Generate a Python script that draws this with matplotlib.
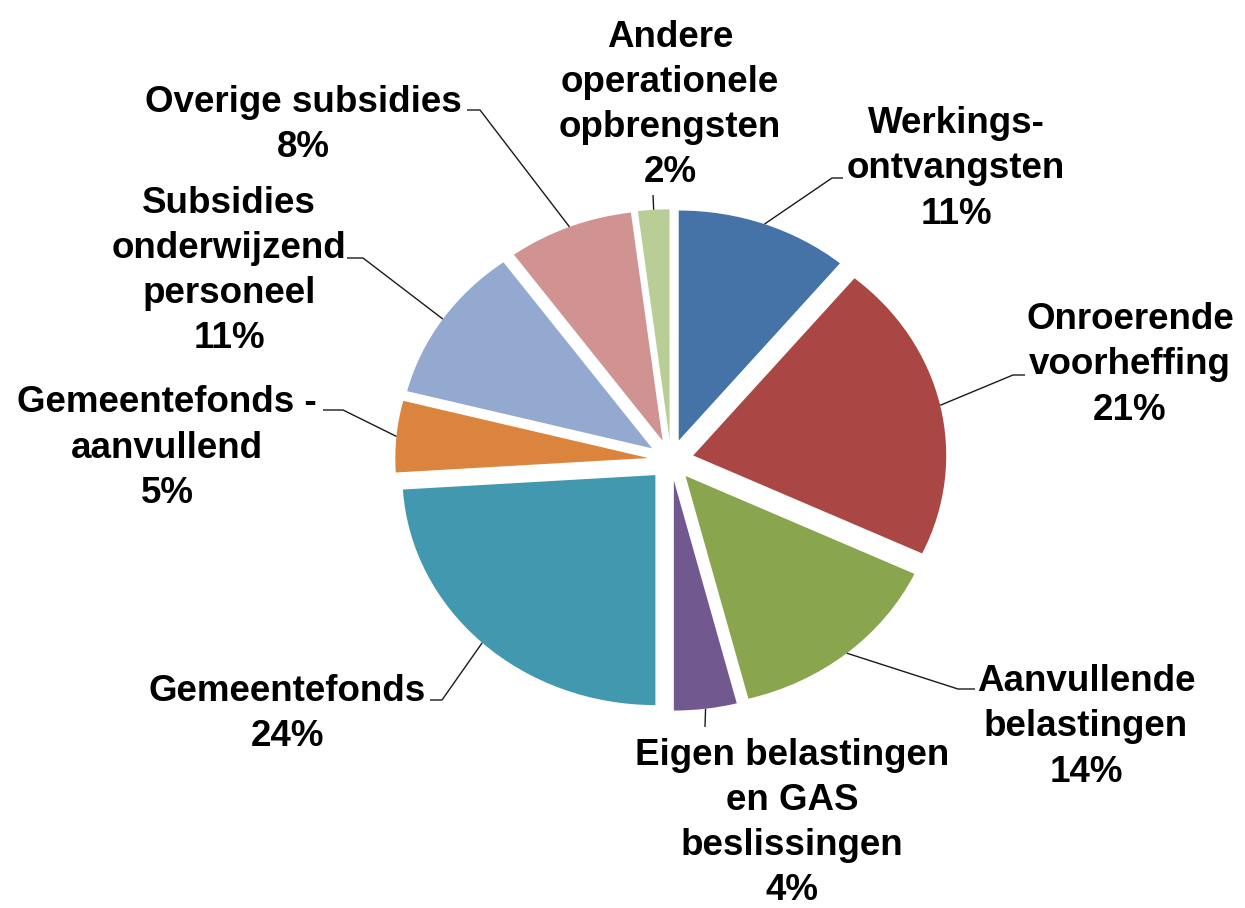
import numpy as np
import matplotlib
matplotlib.use("Agg")
import matplotlib.pyplot as plt

# ---------------- data ----------------
labels = [
    "Werkings-\nontvangsten",
    "Onroerende\nvoorheffing",
    "Aanvullende\nbelastingen",
    "Eigen belastingen\nen GAS\nbeslissingen",
    "Gemeentefonds",
    "Gemeentefonds -\naanvullend",
    "Subsidies\nonderwijzend\npersoneel",
    "Overige subsidies",
    "Andere\noperationele\nopbrengsten",
]
shares = [11, 21, 14, 4, 24, 5, 11, 8, 2]
colors = ["#4572A7", "#AA4643", "#89A54E", "#71588F", "#4198AF",
          "#DB843D", "#93A9CF", "#D19392", "#B9CD96"]

# ---------------- layout (pixels) ----------------
W, H = 1245, 908
cx, cy = 671, 460          # pie centre
rx, ry = 253, 230          # pie is slightly stretched horizontally
explode = 0.09

# text block centre (x, y) and leader elbow points, in pixel coords
label_pos = [
    (956, 169), (1130, 365), (1086, 727), (792, 823), (287, 714),
    (167, 448), (229, 271), (303, 125), (670, 105),
]
leader_pts = [
    [(832, 178), (843, 178)],
    [(1013, 375), (1025, 375)],
    [(958, 689), (975, 689)],
    [(705, 727)],
    [(442, 700), (430, 700)],
    [(343, 410), (323, 410)],
    [(363, 258), (347, 258)],
    [(480, 110), (467, 110)],
    [(653, 195)],
]

plt.rcParams["font.family"] = ["Liberation Sans", "DejaVu Sans"]

fig = plt.figure(figsize=(W / 100, H / 100), dpi=100)

# pie axes: unit circle, non-equal aspect gives the stretched look
ax_pie = fig.add_axes([0, 0, 1, 1])
ax_pie.pie(shares, colors=colors, startangle=90, counterclock=False,
           explode=[explode] * len(shares),
           wedgeprops=dict(linewidth=0))
ax_pie.set_aspect("auto")
ax_pie.set_xlim(-cx / rx, (W - cx) / rx)
ax_pie.set_ylim(-(H - cy) / ry, cy / ry)
ax_pie.set_axis_off()

# overlay axes in pixel coords for labels and leader lines
ax = fig.add_axes([0, 0, 1, 1], facecolor="none")
ax.set_xlim(0, W)
ax.set_ylim(H, 0)
ax.set_axis_off()

total = float(sum(shares))
start = 90.0
for lab, val, pos, pts in zip(labels, shares, label_pos, leader_pts):
    sweep = 360.0 * val / total
    mid = np.deg2rad(start - sweep / 2)
    start -= sweep
    # point on the wedge arc at the mid angle (after explode)
    ux, uy = np.cos(mid), np.sin(mid)
    ax_x = cx + rx * (1 + explode) * ux
    ax_y = cy - ry * (1 + explode) * uy
    xs = [ax_x] + [p[0] for p in pts]
    ys = [ax_y] + [p[1] for p in pts]
    ax.plot(xs, ys, color="#1a1a1a", lw=1.0, solid_capstyle="butt")

    pct = f"{val / total * 100:.0f}%"
    ax.text(pos[0], pos[1], f"{lab}\n{pct}", ha="center", va="center",
            multialignment="center", fontsize=26.5, fontweight="bold",
            color="black", linespacing=1.38)

fig.savefig("out.png", dpi=100, facecolor="white")
